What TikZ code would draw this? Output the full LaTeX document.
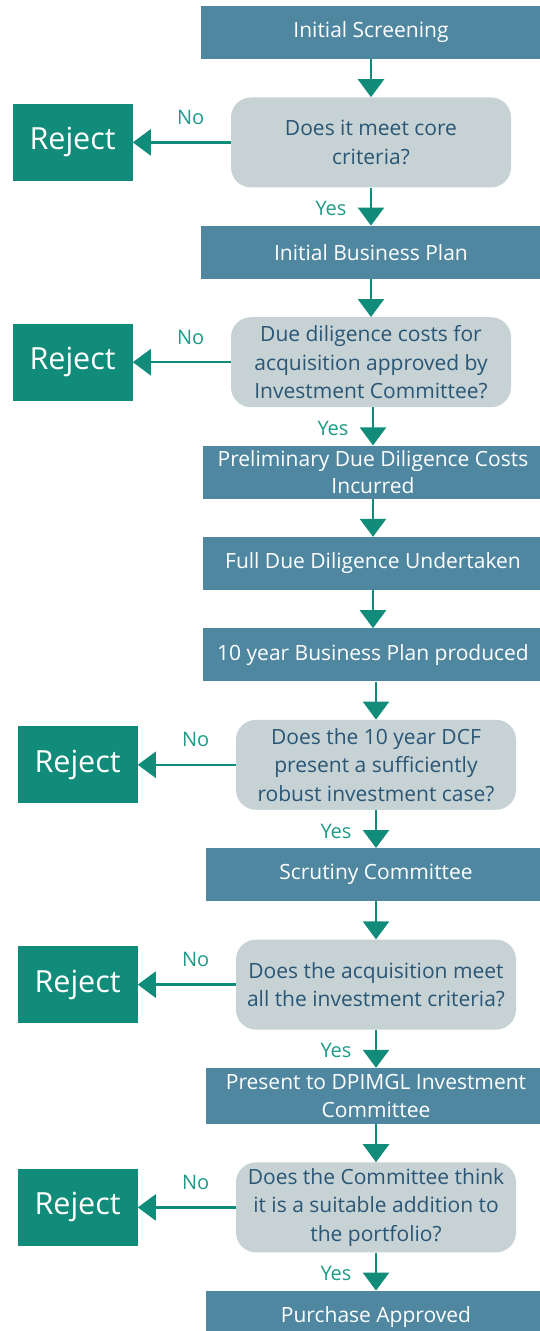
\documentclass[tikz,border=0pt]{standalone}
\usepackage{fontspec}
\setmainfont{Open Sans}
\usepackage{xcolor}
\usetikzlibrary{shapes,arrows.meta,positioning}

\definecolor{stageblue}{HTML}{4F87A1}
\definecolor{querygrey}{HTML}{C6D2D4}
\definecolor{querytext}{HTML}{2A5676}
\definecolor{rejectteal}{HTML}{128C7A}
\definecolor{answerteal}{HTML}{1E9A87}

\begin{document}
\begin{tikzpicture}[
    x=1pt, y=1pt,
    node distance=38pt,
    >={Triangle[width=26pt,length=18pt]},
    stage/.style={rectangle, fill=stageblue, text=white, minimum width=341pt, minimum height=53pt, align=center, inner sep=0pt, font=\fontsize{21}{27.5}\selectfont},
    query/.style={rectangle, rounded corners=20pt, fill=querygrey, text=querytext, minimum width=280pt, minimum height=90pt, align=center, inner sep=0pt, font=\fontsize{21}{28.5}\selectfont},
    reject/.style={rectangle, fill=rejectteal, text=white, minimum width=120pt, minimum height=77pt, font=\fontsize{30.5}{36}\selectfont},
    answer/.style={text=answerteal, inner sep=0pt, font=\fontsize{20}{22}\selectfont},
    flow/.style={draw=rejectteal, line width=2.5pt}
]
\useasboundingbox (0,0) rectangle (540,-1331);

\node[stage] (s1) at (371,-32.5) {Initial Screening};
\node[query, below=of s1] (q1) {Does it meet core\\criteria?};
\node[stage, below=of q1] (s2) {Initial Business Plan};
\node[query, below=of s2] (q2) {Due diligence costs for\\acquisition approved by\\Investment Committee?};
\node[stage, below=of q2, xshift=2pt] (s3) {Preliminary Due Diligence Costs\\Incurred};
\node[stage, below=of s3] (s4) {Full Due Diligence Undertaken};
\node[stage, below=of s4] (s5) {10 year Business Plan produced};
\node[query, below=of s5, xshift=3pt] (q3) {Does the 10 year DCF\\present a sufficiently\\robust investment case?};
\node[stage, below=of q3] (s6) {Scrutiny Committee};
\node[query, below=of s6] (q4) {Does the acquisition meet\\all the investment criteria?};
\node[stage, below=of q4, minimum height=56pt] (s7) {Present to DPIMGL Investment\\Committee};
\node[query, below=of s7] (q5) {Does the Committee think\\it is a suitable addition to\\the portfolio?};
\node[stage, below=of q5] (s8) {Purchase Approved};

\foreach \q/\r in {q1/r1, q2/r2, q3/r3, q4/r4, q5/r5}
    \node[reject, left=98pt of \q] (\r) {Reject};

% plain steps
\foreach \a/\b in {s1/q1, s2/q2, s3/s4, s4/s5, s5/q3, s6/q4, s7/q5}
    \draw[->, flow] (\a.south -| \b.north) -- (\b.north);

% yes branches
\foreach \a/\b in {q1/s2, q2/s3, q3/s6, q4/s7, q5/s8}
    \draw[->, flow] (\a.south -| \b.north) -- node[answer, xshift=-40pt, yshift=-2pt] {Yes} (\b.north);

% no branches
\foreach \q/\r in {q1/r1, q2/r2, q3/r3, q4/r4, q5/r5}
    \draw[->, flow] (\q) -- node[answer, pos=.41, yshift=25pt] {No} (\r);

\end{tikzpicture}
\end{document}
